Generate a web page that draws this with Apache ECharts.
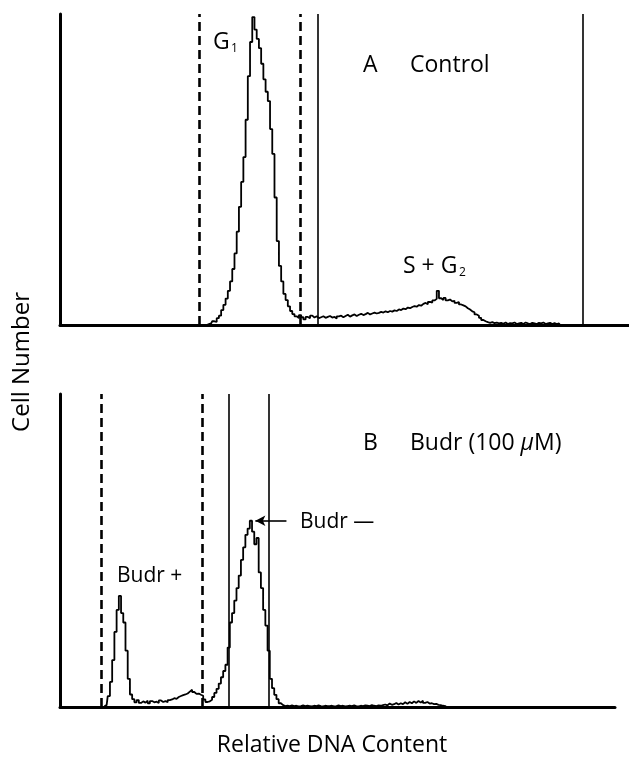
<!DOCTYPE html>
<html>
<head>
<meta charset="utf-8">
<title>Relative DNA Content</title>
<script src="https://cdn.jsdelivr.net/npm/echarts@6/dist/echarts.min.js"></script>
<style>
    html, body { margin: 0; padding: 0; background: #fff; }
    #container { width: 629px; height: 757px; }
</style>
</head>
<body>
<div id="container"></div>
<script>
// channel numbers run 0..256 along the DNA axis
var channelMax = 256;
var budrChannelMax = 250;

// A Control histogram, counts from channel ctrlStart onward
var ctrlStart = 65;
var ctrlCounts = [
    0, 0, 0.3, 0.5, 1.2, 1.0, 2.2, 3.0, 4.8, 6.5,
    8.5, 11, 14, 18, 23, 30, 38, 46, 54, 66,
    80, 91, 99, 95, 92, 89, 84, 79, 75, 72,
    63, 55, 41, 27, 19, 14, 10, 8, 6, 4.5,
    3.5, 2.8, 2.2, 3.2, 2.5, 1.8, 2.6, 2.2, 3.0, 2.4,
    2.8, 2.2, 2.5, 2.8, 2.3, 2.6, 2.9, 2.4, 2.6, 2.1,
    2.8, 3.0, 2.5, 2.9, 3.3, 2.7, 3.1, 3.4, 2.9, 3.3,
    3.6, 3.2, 3.5, 3.9, 3.4, 3.7, 4.0, 3.7, 3.9, 4.2,
    4.0, 4.4, 4.1, 4.5, 4.3, 4.7, 4.5, 5.0, 4.8, 5.3,
    5.1, 5.6, 5.4, 5.8, 6.1, 5.9, 6.4, 6.2, 6.8, 7.1,
    6.7, 7.4, 7.2, 7.9, 8.4, 11.0, 8.6, 8.0, 8.7, 7.9,
    8.2, 7.6, 7.8, 7.1, 7.4, 6.6, 6.3, 6.0, 5.4, 5.0,
    4.4, 4.1, 3.4, 3.0, 2.3, 1.6, 1.2, 0.9, 0.7, 0.9,
    0.6, 0.8, 0.5, 0.7, 0.4, 0.8, 0.3, 0.6, 0.5, 0.8,
    0.3, 0.5, 0.7, 0.3, 0.8, 0.5, 0.3, 0.7, 0.5, 0.3,
    0.7, 0.5, 0.8, 0.3, 0.5, 0.7, 0.3, 0.6, 0.3, 0.5,
    0
];

// B Budr (100 uM) histogram
var budrStart = 20;
var budrCounts = [
    0.3, 0.6, 3.5, 8, 15, 24, 31, 35.5, 30, 27,
    18, 9, 4, 2.5, 1.5, 2.2, 1.3, 1.8, 1.4, 2.0,
    1.2, 1.9, 1.5, 1.7, 1.3, 2.1, 1.6, 1.9, 1.5, 2.2,
    2.4, 2.8, 2.6, 3.2, 3.5, 3.8, 4.0, 4.3, 4.9, 5.5,
    4.8, 4.2, 4.3, 3.9, 3.6, 2.4, 1.6, 1.8, 2.3, 3.2,
    4.5, 5.8, 7.5, 9.5, 11.5, 13.5, 19, 27, 30, 34,
    38, 42, 47, 51, 55, 57, 59.5, 56, 52, 54,
    43, 38, 31, 26, 18, 9, 6, 3.9, 2.5, 1.2,
    0.6, 0.3,
    0.4, 0.3, 0.5, 0.3, 0.4, 0.2, 0.3, 0.5, 0.3, 0.4,
    0.3, 0.2, 0.4, 0.3, 0.5, 0.3, 0.2, 0.4, 0.3, 0.3,
    0.4, 0.2, 0.3, 0.5, 0.3, 0.4, 0.2, 0.3, 0.4, 0.3,
    0.5, 0.3, 0.2, 0.4, 0.3, 0.5, 0.4, 0.3, 0.6, 0.4,
    0.3, 0.5, 0.4, 0.6,
    0.8, 0.5, 1.1, 0.7, 0.9, 1.3, 0.8, 1.2, 0.9, 1.5,
    1.0, 1.6, 1.2, 1.8, 1.3, 1.9, 1.4, 2.0, 1.3, 1.6,
    1.1, 1.2, 0.9, 1.0, 0.7, 0.6, 0.4, 0.3,
    0
];

// gate lines (channel positions)
var ctrlDashed = [62.5, 108];
var ctrlSolid = [116, 235.3];
var budrDashed = [18.4, 63.9];
var budrSolid = [76, 94];

// arrow pointing at the Budr - peak
var arrowFrom = [102, 59.5];
var arrowTo = [88, 59.5];

var ink = '#000';
var font = '"Open Sans", "DejaVu Sans", sans-serif';

function toPairs(start, counts) {
    var out = [];
    for (var i = 0; i < counts.length; i++) {
        out.push([start + i, counts[i]]);
    }
    return out;
}

function gateLines(dashed, solid) {
    var lines = [];
    for (var i = 0; i < dashed.length; i++) {
        lines.push({ xAxis: dashed[i], lineStyle: { type: [9, 5], width: 2.6, color: ink } });
    }
    for (var j = 0; j < solid.length; j++) {
        lines.push({ xAxis: solid[j], lineStyle: { type: 'solid', width: 1.6, color: ink } });
    }
    return lines;
}

function xAxisOf(idx, max) {
    return {
        type: 'value', gridIndex: idx, min: 0, max: max,
        axisLine: { show: true, onZero: false, lineStyle: { color: ink, width: 3 } },
        axisTick: { show: false }, axisLabel: { show: false }, splitLine: { show: false }
    };
}

function yAxisOf(idx) {
    return {
        type: 'value', gridIndex: idx, min: 0, max: 100,
        axisLine: { show: true, onZero: false, lineStyle: { color: ink, width: 3 } },
        axisTick: { show: false }, axisLabel: { show: false }, splitLine: { show: false }
    };
}

function label(text, x, y, size, align, extra) {
    var el = {
        type: 'text', x: x, y: y,
        style: {
            text: text, fill: ink, font: (size || 21) + 'px ' + font,
            textAlign: align || 'left', textVerticalAlign: 'middle'
        }
    };
    if (extra) {
        for (var k in extra) { el[k] = extra[k]; }
    }
    return el;
}

var myChart = echarts.init(document.getElementById('container'));

var option = {
    animation: false,
    backgroundColor: '#fff',
    grid: [
        { left: 60, right: 0, top: 14, height: 311 },
        { left: 60, width: 555, top: 394, height: 313 }
    ],
    xAxis: [xAxisOf(0, channelMax), xAxisOf(1, budrChannelMax)],
    yAxis: [yAxisOf(0), yAxisOf(1)],
    series: [
        {
            name: 'Control',
            type: 'line', xAxisIndex: 0, yAxisIndex: 0,
            step: 'middle', symbol: 'none',
            lineStyle: { color: ink, width: 1.8 },
            data: toPairs(ctrlStart, ctrlCounts),
            markLine: {
                silent: true, symbol: 'none', label: { show: false },
                data: gateLines(ctrlDashed, ctrlSolid)
            }
        },
        {
            name: 'Budr',
            type: 'line', xAxisIndex: 1, yAxisIndex: 1,
            step: 'middle', symbol: 'none',
            lineStyle: { color: ink, width: 1.8 },
            data: toPairs(budrStart, budrCounts),
            markLine: {
                silent: true, symbol: 'none', label: { show: false },
                data: gateLines(budrDashed, budrSolid)
            }
        },
        {
            // arrow only
            name: 'arrow',
            type: 'line', xAxisIndex: 1, yAxisIndex: 1,
            data: [], symbol: 'none',
            markLine: {
                silent: true, symbol: ['none', 'arrow'], symbolSize: [8, 10],
                label: { show: false },
                lineStyle: { type: 'solid', width: 1.6, color: ink },
                data: [[{ coord: arrowFrom }, { coord: arrowTo }]]
            }
        }
    ],
    graphic: [
        label('G', 213, 42, 23),
        label('1', 231, 49, 12),
        label('A', 363, 65, 23),
        label('Control', 410, 65, 23),
        label('S + G', 403, 266, 23),
        label('2', 459, 273, 12),
        label('B', 363, 443, 23),
        {
            type: 'text', x: 410, y: 443,
            style: {
                text: '{n|Budr (100 }{m|\u03bc}{n|M)}',
                fill: ink, textVerticalAlign: 'middle',
                rich: {
                    n: { font: '23px ' + font, fill: ink },
                    m: { font: 'italic 23px ' + font, fill: ink }
                }
            }
        },
        label('Budr \u2014', 300, 522),
        label('Budr +', 117, 576),
        label('Cell Number', 22, 362, 24, 'center', { rotation: Math.PI / 2 }),
        label('Relative DNA Content', 332, 745, 23, 'center')
    ]
};

myChart.setOption(option);
</script>
</body>
</html>
